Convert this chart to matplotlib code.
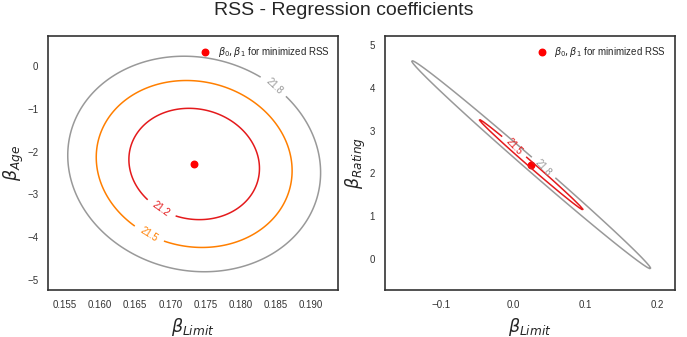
import numpy as np
import matplotlib
matplotlib.use('Agg')
import matplotlib.pyplot as plt
import seaborn as sns

sns.set_style('white')
plt.rcParams['font.family'] = ['Liberation Sans', 'DejaVu Sans']

# 最小 RSS 对应的系数 (Limit, Age) / (Limit, Rating)
coef_age = [0.1734, -2.2915]
coef_rating = [0.0245, 2.2017]

# RSS(百万) 曲面: 最小值、最外层等高线的半宽、相关系数
rss_min_age = 21.05
half_age = [0.0180, 2.52]
rho_age = -0.08
rss_min_rating = 21.43
half_rating = [0.166, 2.435]
rho_rating = -0.997

levels_age = [21.25, 21.5, 21.8]
colors_age = ['#e41a1c', '#ff7f00', '#999999']
levels_rating = [21.5, 21.8]
colors_rating = ['#e41a1c', '#999999']
label_pos_age = [(0.1695, -3.18), (0.1672, -3.88), (0.1847, -0.48)]
label_pos_rating = [(0.0, 2.61), (0.042, 2.14)]


def rss_grid(center, half, rho, zmin, zout, xr, yr):
    b1 = np.linspace(center[0] - xr, center[0] + xr, 300)
    b2 = np.linspace(center[1] - yr, center[1] + yr, 300)
    xx, yy = np.meshgrid(b1, b2)
    u = (xx - center[0]) / half[0]
    v = (yy - center[1]) / half[1]
    q = (u ** 2 - 2 * rho * u * v + v ** 2) / (1 - rho ** 2)
    zz = zmin + (zout - zmin) * q
    return xx, yy, zz


fig, (ax1, ax2) = plt.subplots(1, 2, figsize=(6.87, 3.37), dpi=100)
fig.suptitle('RSS - Regression coefficients', fontsize=14, y=0.995)

xx, yy, zz = rss_grid(coef_age, half_age, rho_age, rss_min_age, 21.8, 0.0207, 2.98)
cs = ax1.contour(xx, yy, zz, colors=colors_age, levels=levels_age, linewidths=1.1)
ax1.clabel(cs, inline=True, fontsize=7, fmt='%1.1f', manual=label_pos_age)
ax1.scatter(coef_age[0], coef_age[1], c='r', s=22,
            label=r'$\beta_0, \beta_1$ for minimized RSS')
ax1.set_xlim(0.1526, 0.1939)
ax1.set_ylim(-5.25, 0.70)
ax1.set_xlabel(r'$\beta_{Limit}$', fontsize=12.5)
ax1.set_ylabel(r'$\beta_{Age}$', fontsize=12.5, labelpad=1)

xx, yy, zz = rss_grid(coef_rating, half_rating, rho_rating, rss_min_rating, 21.8, 0.201, 2.975)
cs = ax2.contour(xx, yy, zz, colors=colors_rating, levels=levels_rating, linewidths=1.1)
ax2.clabel(cs, inline=True, fontsize=7, fmt='%1.1f', manual=label_pos_rating)
ax2.scatter(coef_rating[0], coef_rating[1], c='r', s=22,
            label=r'$\beta_0, \beta_1$ for minimized RSS')
ax2.set_xlim(-0.179, 0.2236)
ax2.set_ylim(-0.74, 5.21)
ax2.xaxis.set_major_locator(plt.MultipleLocator(0.1))
ax2.set_xlabel(r'$\beta_{Limit}$', fontsize=12.5)
ax2.set_ylabel(r'$\beta_{Rating}$', fontsize=12.5, labelpad=1)

for ax in (ax1, ax2):
    ax.tick_params(labelsize=7, colors='#333333')
    for s in ax.spines.values():
        s.set_color('#333333')
        s.set_linewidth(1.2)
    ax.legend(loc='upper right', fontsize=7, frameon=False, handletextpad=0.3)

fig.subplots_adjust(left=0.07, right=0.982, bottom=0.138, top=0.893, wspace=0.16)
fig.savefig('out.png', dpi=100)
